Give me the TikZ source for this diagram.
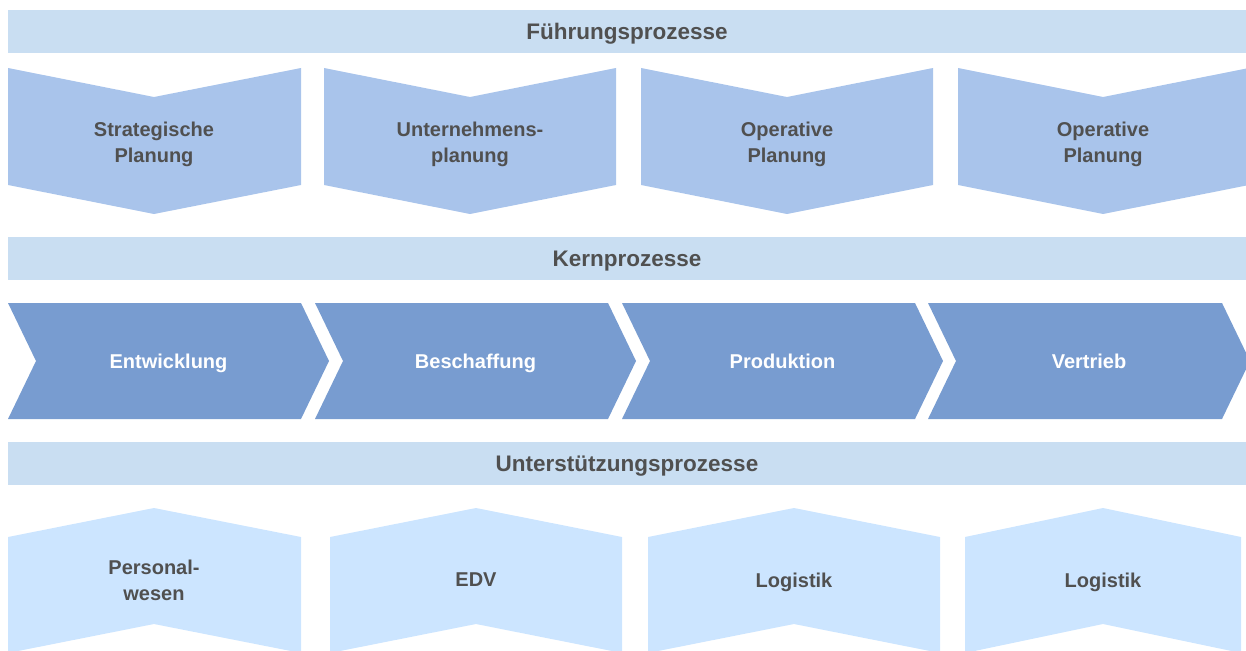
\documentclass[tikz,border=0pt]{standalone}
\usepackage{fontspec}
\setmainfont{Liberation Sans}
\usepackage{tikz}

\definecolor{barblue}{RGB}{201,222,242}
\definecolor{leadblue}{RGB}{169,196,235}
\definecolor{coreblue}{RGB}{120,156,208}
\definecolor{supportblue}{RGB}{204,229,255}
\definecolor{textgray}{RGB}{80,80,80}

\tikzset{
	bar/.style={fill=barblue, minimum width=1238pt, minimum height=43pt, inner sep=0pt,
		text depth=0pt, text=textgray, font=\fontsize{22.5}{27}\selectfont\bfseries},
	boxtext/.style={align=center, inner sep=0pt, text depth=0pt, text=textgray,
		font=\fontsize{20}{26}\selectfont\bfseries},
	coretext/.style={boxtext, text=white}
}

\begin{document}
\begin{tikzpicture}[x=1pt,y=-1pt]
	\useasboundingbox (0,0) rectangle (1246,650);
	\clip (0,0) rectangle (1246,650);

	% the three bands
	\foreach \yy/\name/\txt in {31.5/fuehrung/Führungsprozesse, 258.5/kern/Kernprozesse, 463.5/support/Unterstützungsprozesse}
		\node[bar] (\name) at (627,\yy) {\txt};

	% Führungsprozesse
	\foreach \l/\m/\r/\name/\txt in {8/154/301/strat/{Strategische\\Planung}, 324/470/616/unternehmen/{Unternehmens-\\planung}, 641/787/933/operativ/{Operative\\Planung}, 958/1103/1249/operativb/{Operative\\Planung}}
	{
		\fill[leadblue] (\l,68) -- (\m,97) -- (\r,68) -- (\r,185) -- (\m,214) -- (\l,185) -- cycle;
		\node[boxtext] (\name) at (\m,142) {\txt};
	}

	% Kernprozesse
	\foreach \l/\r/\name/\txt in {8/301/entw/Entwicklung, 315/608/besch/Beschaffung, 622/915/prod/Produktion, 928/1222/vertr/Vertrieb}
	{
		\fill[coreblue] (\l,303) -- (\r,303) -- ++(28,58) -- (\r,419) -- (\l,419) -- ++(28,-58) -- cycle;
		\node[coretext] (\name) at ({(\l+\r+28)/2},361) {\txt};
	}

	% Unterstützungsprozesse
	\foreach \l/\m/\r/\name/\txt in {8/154/301/personal/{Personal-\\wesen}, 330/476/622/edv/EDV, 648/794/940/logistik/Logistik, 965/1103/1241/logistikb/Logistik}
	{
		\fill[supportblue] (\l,537) -- (\m,508) -- (\r,537) -- (\r,653) -- (\m,624) -- (\l,653) -- cycle;
		\node[boxtext] (\name) at (\m,580) {\txt};
	}
\end{tikzpicture}
\end{document}
